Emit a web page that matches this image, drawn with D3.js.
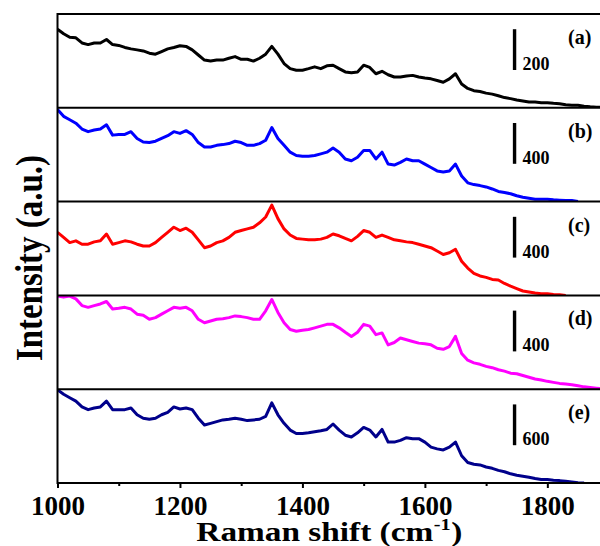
<!DOCTYPE html>
<html>
<head>
<meta charset="utf-8">
<script src="https://cdn.jsdelivr.net/npm/d3@7"></script>
<style>
	body { margin: 0; background: #fff; }
	svg { display: block; }
	text { font-family: "Liberation Serif", "Times New Roman", serif; font-weight: bold; }
</style>
</head>
<body>
<script>
// Raman spectra, five stacked panels (intensity in counts)
const wavenumbers = [
	1000, 1010, 1020, 1030, 1040, 1050, 1060, 1070, 1080, 1090,
	1100, 1110, 1120, 1130, 1140, 1150, 1160, 1170, 1180, 1190,
	1200, 1210, 1220, 1230, 1240, 1250, 1260, 1270, 1280, 1290,
	1300, 1310, 1320, 1330, 1340, 1350, 1360, 1370, 1380, 1390,
	1400, 1410, 1420, 1430, 1440, 1450, 1460, 1470, 1480, 1490,
	1500, 1510, 1520, 1530, 1540, 1550, 1560, 1570, 1580, 1590,
	1600, 1610, 1620, 1630, 1640, 1650, 1660, 1670, 1680, 1690,
	1700, 1710, 1720, 1730, 1740, 1750, 1760, 1770, 1780, 1790,
	1800, 1810, 1820, 1830, 1840, 1850, 1860, 1870, 1880, 1890
];

const seriesA = [
	385, 363, 346, 343, 318, 310, 318, 318, 335, 310,
	306, 296, 289, 284, 279, 268, 263, 276, 289, 296,
	304, 301, 284, 259, 234, 229, 234, 234, 243, 251,
	238, 238, 229, 243, 263, 301, 263, 217, 192, 184,
	184, 192, 201, 192, 206, 209, 192, 176, 172, 176,
	209, 198, 167, 179, 162, 151, 151, 156, 159, 151,
	146, 142, 134, 125, 142, 167, 117, 95, 84, 80,
	72, 67, 59, 50, 45, 38, 33, 28, 28, 25,
	25, 22, 20, 15, 13, 12, 8, 5, 3, 2
];
const seriesB = [
	903, 836, 803, 769, 712, 686, 702, 712, 753, 652,
	659, 659, 686, 619, 585, 579, 592, 619, 646, 686,
	669, 696, 659, 579, 535, 535, 552, 559, 569, 592,
	579, 552, 552, 569, 602, 726, 619, 552, 485, 452,
	445, 445, 452, 468, 485, 525, 485, 418, 401, 435,
	502, 502, 418, 485, 368, 358, 385, 418, 401, 401,
	368, 335, 301, 291, 301, 368, 251, 184, 167, 157,
	144, 124, 100, 90, 77, 57, 43, 33, 23, 23,
	23, 17, 13, 10, 10, 0
];
const seriesC = [
	619, 569, 518, 535, 502, 502, 525, 535, 602, 502,
	518, 535, 525, 502, 485, 485, 518, 569, 619, 669,
	636, 659, 619, 545, 468, 485, 518, 535, 569, 619,
	636, 652, 669, 712, 769, 886, 753, 652, 592, 559,
	552, 545, 545, 552, 569, 602, 585, 559, 535, 579,
	636, 619, 569, 592, 569, 545, 535, 525, 518, 502,
	485, 468, 435, 401, 418, 452, 335, 268, 217, 191,
	177, 157, 151, 117, 90, 67, 43, 33, 23, 17,
	17, 10, 7, 0
];
const seriesD = [
	913, 903, 913, 886, 820, 803, 820, 836, 860, 786,
	793, 803, 786, 736, 726, 686, 702, 736, 769, 803,
	793, 803, 769, 686, 652, 669, 686, 692, 702, 719,
	712, 702, 686, 686, 769, 880, 753, 652, 585, 569,
	579, 585, 602, 619, 636, 636, 602, 559, 518, 559,
	636, 619, 535, 552, 435, 458, 502, 485, 468, 452,
	445, 435, 401, 391, 418, 518, 351, 284, 258, 244,
	224, 211, 191, 177, 157, 151, 134, 117, 100, 90,
	77, 67, 57, 50, 43, 33, 23, 17, 10, 3
];
const seriesE = [
	1370, 1305, 1255, 1204, 1119, 1079, 1104, 1119, 1204, 1079,
	1079, 1079, 1104, 1004, 953, 938, 953, 1004, 1039, 1119,
	1089, 1104, 1079, 953, 853, 878, 903, 928, 938, 953,
	938, 918, 928, 938, 979, 1179, 1004, 878, 778, 728,
	728, 738, 753, 768, 788, 868, 778, 703, 677, 738,
	818, 778, 677, 788, 602, 602, 627, 667, 652, 652,
	602, 527, 502, 487, 527, 602, 401, 301, 276, 266,
	236, 216, 186, 166, 135, 115, 100, 85, 65, 50,
	50, 40, 35, 25, 15, 5, 0
];

const panelLabels = ["(a)", "(b)", "(c)", "(d)", "(e)"];
const panelSpans = [460, 920, 920, 920, 1380];
const scaleBarValues = [200, 400, 400, 400, 600];
const panelColors = ["#000000", "#0000ff", "#ff0000", "#ff00ff", "#00008b"];
const seriesList = [seriesA, seriesB, seriesC, seriesD, seriesE];

const majorTicks = [1000, 1200, 1400, 1600, 1800];
const minorTicks = [1100, 1300, 1500, 1700];
const xDomain = [1000, 1886];

// Dimensions
const dimensions = {
	width: 600,
	height: 546,
	margin: { top: 14, right: 0, bottom: 63, left: 57.5 }
};
dimensions.boundedWidth = dimensions.width - dimensions.margin.left - dimensions.margin.right;
dimensions.boundedHeight = dimensions.height - dimensions.margin.top - dimensions.margin.bottom;
const panelHeight = dimensions.boundedHeight / seriesList.length;

const svg = d3.select("body")
	.append("svg")
	.attr("width", dimensions.width)
	.attr("height", dimensions.height);

const bounds = svg.append("g")
	.attr("transform", `translate(${dimensions.margin.left}, ${dimensions.margin.top})`);

const xScale = d3.scaleLinear()
	.domain(xDomain)
	.range([0, dimensions.boundedWidth]);

const defs = svg.append("defs");

seriesList.forEach((series, i) => {
	const top = i * panelHeight;
	const yScale = d3.scaleLinear()
		.domain([0, panelSpans[i]])
		.range([top + panelHeight, top]);

	defs.append("clipPath")
		.attr("id", `clip-${i}`)
		.append("rect")
		.attr("x", 0)
		.attr("y", top)
		.attr("width", dimensions.boundedWidth)
		.attr("height", panelHeight);

	const points = series.map((v, j) => [wavenumbers[j], v]);
	const lineGenerator = d3.line()
		.x(d => xScale(d[0]))
		.y(d => yScale(d[1]));

	bounds.append("path")
		.datum(points)
		.attr("clip-path", `url(#clip-${i})`)
		.attr("fill", "none")
		.attr("stroke", panelColors[i])
		.attr("stroke-width", 3)
		.attr("stroke-linejoin", "round")
		.attr("d", lineGenerator);

	// scale bar
	const barX = dimensions.boundedWidth * 0.8425;
	const barBottom = top + 56;
	const barLen = yScale(0) - yScale(scaleBarValues[i]);
	bounds.append("line")
		.attr("x1", barX).attr("x2", barX)
		.attr("y1", barBottom).attr("y2", barBottom - barLen)
		.attr("stroke", "#000")
		.attr("stroke-width", 3.4);
	bounds.append("text")
		.attr("x", barX + 8)
		.attr("y", barBottom)
		.attr("font-size", 18)
		.text(scaleBarValues[i]);

	bounds.append("text")
		.attr("x", dimensions.boundedWidth - 32)
		.attr("y", top + 30)
		.attr("font-size", 20)
		.text(panelLabels[i]);

	// panel separator
	if (i > 0) {
		bounds.append("line")
			.attr("x1", 0).attr("x2", dimensions.boundedWidth + 2)
			.attr("y1", top).attr("y2", top)
			.attr("stroke", "#000")
			.attr("stroke-width", 2);
	}
});

// frame
bounds.append("rect")
	.attr("x", 0).attr("y", 0)
	.attr("width", dimensions.boundedWidth + 2)
	.attr("height", dimensions.boundedHeight)
	.attr("fill", "none")
	.attr("stroke", "#000")
	.attr("stroke-width", 2);

// x axis
const xAxis = bounds.append("g")
	.attr("transform", `translate(0, ${dimensions.boundedHeight})`)
	.call(d3.axisBottom(xScale)
		.tickValues(majorTicks)
		.tickSize(5)
		.tickPadding(8)
		.tickFormat(d3.format("d")));
xAxis.select(".domain").remove();
xAxis.selectAll("line").attr("stroke-width", 2);
xAxis.selectAll("text")
	.attr("font-size", 27)
	.attr("font-family", "Liberation Serif, serif")
	.attr("font-weight", "bold")
	.attr("fill", "#000");

const minorAxis = bounds.append("g")
	.attr("transform", `translate(0, ${dimensions.boundedHeight})`)
	.call(d3.axisBottom(xScale)
		.tickValues(minorTicks)
		.tickSize(3)
		.tickFormat(""));
minorAxis.select(".domain").remove();
minorAxis.selectAll("line").attr("stroke-width", 2);

// axis titles (the figure's title font is a bit wider than Liberation Serif)
const xTitle = svg.append("g")
	.attr("transform", `translate(${dimensions.margin.left + dimensions.boundedWidth / 2}, 541) scale(1.19, 1)`);
const titleParts = [
	{ text: "Raman shift (cm", size: 28, dy: 0 },
	{ text: "-1", size: 17, dy: -11 },
	{ text: ")", size: 28, dy: 0 }
];
const partNodes = titleParts.map(p => xTitle.append("text")
	.attr("font-size", p.size)
	.attr("y", p.dy)
	.text(p.text));
const widths = partNodes.map(n => n.node().getComputedTextLength());
let cursor = -d3.sum(widths) / 2;
partNodes.forEach((n, k) => {
	n.attr("x", cursor);
	cursor += widths[k] + 0.5;
});

svg.append("text")
	.attr("transform", `translate(42, 258) scale(1.15, 1) rotate(-90)`)
	.attr("text-anchor", "middle")
	.attr("font-size", 33)
	.text("Intensity (a.u.)");
</script>
</body>
</html>
